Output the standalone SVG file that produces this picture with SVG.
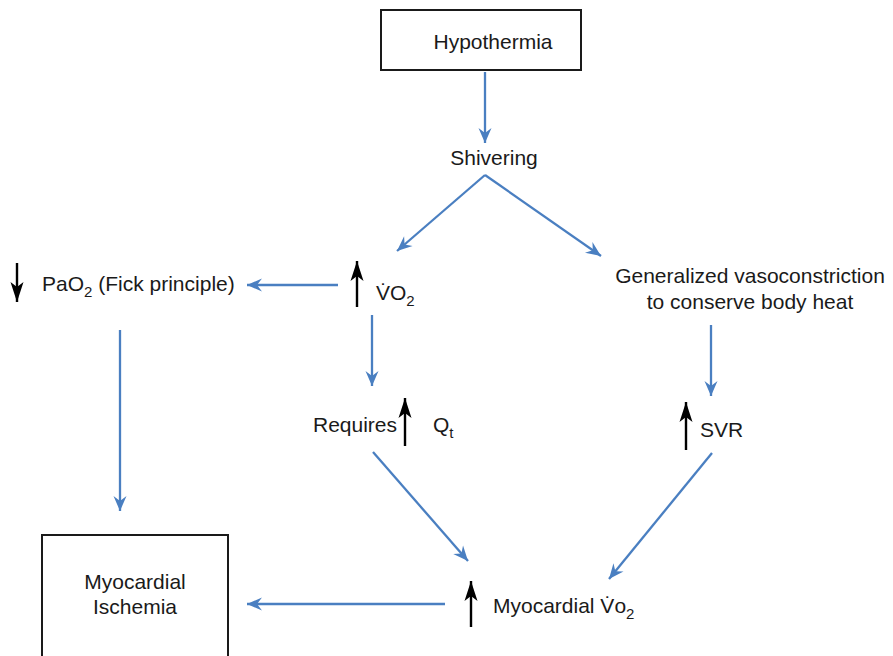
<svg xmlns="http://www.w3.org/2000/svg" width="893" height="656" viewBox="0 0 893 656">
<style>
text{font-family:"Liberation Sans",Arial,sans-serif;font-size:21px;fill:#1a1a1a}
.c{text-anchor:middle}
.box{fill:#fff;stroke:#1a1a1a;stroke-width:2}
.con{stroke:#4a7fc1;stroke-width:2.3;fill:none;marker-end:url(#ab)}
.up{stroke:#000;stroke-width:2.4;fill:none;marker-end:url(#kb)}
.sub{font-size:15px}
</style>
<defs>
<marker id="ab" markerUnits="userSpaceOnUse" markerWidth="20" markerHeight="16" viewBox="-16 -8 18 16" refX="0" refY="0" orient="auto">
<path d="M0,0 L-15,-6.5 L-10,0 L-15,6.5 Z" fill="#4a7fc1"/>
</marker>
<marker id="kb" markerUnits="userSpaceOnUse" markerWidth="24" markerHeight="20" viewBox="-22 -10 24 20" refX="0" refY="0" orient="auto">
<path d="M0,0 L-20,-6.5 L-15,0 L-20,6.5 Z" fill="#000"/>
</marker>
</defs>
<g id="hypothermia">
<rect class="box" x="381" y="10" width="200" height="60"/>
<text class="c" x="493" y="49">Hypothermia</text>
</g>
<g id="shivering"><text class="c" x="494" y="165">Shivering</text></g>
<g id="vo2">
<line class="up" x1="357" y1="307" x2="357" y2="261"/>
<text x="376" y="300">V̇O<tspan class="sub" dy="6">2</tspan></text>
</g>
<g id="pao2">
<line class="up" x1="17" y1="263" x2="17" y2="302"/>
<text x="42" y="291">PaO<tspan class="sub" dy="6">2</tspan><tspan dy="-6"> (Fick principle)</tspan></text>
</g>
<g id="vasoconstriction">
<text class="c" x="750" y="283">Generalized vasoconstriction</text>
<text class="c" x="750" y="309">to conserve body heat</text>
</g>
<g id="requires">
<text x="313" y="432">Requires</text>
<line class="up" x1="405" y1="446" x2="405" y2="398"/>
<text x="433" y="432">Q<tspan class="sub" dy="6">t</tspan></text>
</g>
<g id="svr">
<line class="up" x1="686" y1="450" x2="686" y2="402"/>
<text x="700" y="437">SVR</text>
</g>
<g id="myovo2">
<line class="up" x1="471" y1="627" x2="471" y2="581"/>
<text x="493" y="613">Myocardial V̇o<tspan class="sub" dy="6">2</tspan></text>
</g>
<g id="ischemia">
<rect class="box" x="42" y="535" width="186" height="125"/>
<text class="c" x="135" y="589">Myocardial</text>
<text class="c" x="135" y="614">Ischemia</text>
</g>
<g id="connectors">
<line class="con" x1="485" y1="72" x2="485" y2="143"/>
<line class="con" x1="485" y1="175" x2="397" y2="251"/>
<line class="con" x1="485" y1="175" x2="601" y2="256"/>
<line class="con" x1="338" y1="285" x2="247" y2="285"/>
<line class="con" x1="120" y1="330" x2="120" y2="511"/>
<line class="con" x1="372" y1="315" x2="372" y2="386"/>
<line class="con" x1="373" y1="452" x2="468" y2="561"/>
<line class="con" x1="711" y1="325" x2="711" y2="396"/>
<line class="con" x1="712" y1="453" x2="609" y2="579"/>
<line class="con" x1="445" y1="604" x2="247" y2="604"/>
</g>
</svg>
